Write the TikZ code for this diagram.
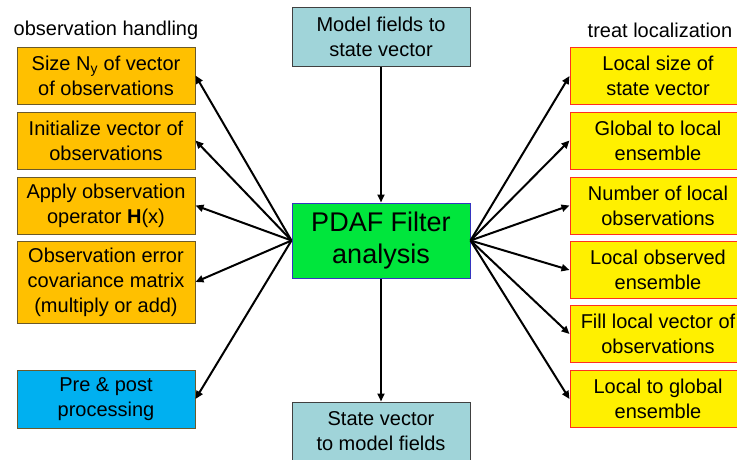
\documentclass[tikz,border=0pt]{standalone}
\usepackage{fontspec}
\setmainfont{Liberation Sans}
\usetikzlibrary{arrows.meta}
\definecolor{obsfill}{HTML}{FFC000}
\definecolor{obsdraw}{HTML}{6B5A2A}
\definecolor{locfill}{HTML}{FFF000}
\definecolor{locdraw}{HTML}{FF3020}
\definecolor{prefill}{HTML}{00B0F0}
\definecolor{modfill}{HTML}{A0D4D9}
\definecolor{pdaffill}{HTML}{00E63C}
\definecolor{pdafdraw}{HTML}{3535C0}
\tikzset{
  txt/.style={font=\fontsize{20}{25}\selectfont, align=center, inner sep=0pt},
  obsbox/.style={txt, draw=obsdraw, fill=obsfill, line width=1pt, minimum width=178pt},
  locbox/.style={txt, draw=locdraw, fill=locfill, line width=1pt, minimum width=176pt, minimum height=57pt},
  prebox/.style={txt, draw=obsdraw, fill=prefill, line width=1pt, minimum width=178pt, minimum height=58pt},
  modbox/.style={txt, draw=black!75, fill=modfill, line width=1pt, minimum width=178pt, minimum height=59pt},
  pdafbox/.style={font=\fontsize{27}{32}\selectfont, align=center, inner sep=0pt, draw=pdafdraw, fill=pdaffill, line width=1pt, minimum width=178pt, minimum height=75pt},
  conn/.style={line width=2pt, -{Triangle[length=8pt,width=7pt]}},
  title/.style={font=\fontsize{20}{25}\selectfont, inner sep=0pt}
}
\begin{document}
\begin{tikzpicture}[x=1pt,y=-1pt]
\useasboundingbox (0,0) rectangle (737,459);
\clip (0,0) rectangle (737,459);
\node[title] (tobs) at (106,30) {observation handling};
\node[title] (tloc) at (660,30) {treat localization};

\node[obsbox, minimum height=57pt] (o1) at (106,75.5) {Size N\textsubscript{y} of vector\\of observations};
\node[obsbox, minimum height=57pt] (o2) at (106,140.5) {Initialize vector of\\observations};
\node[obsbox, minimum height=57pt] (o3) at (106,205.5) {Apply observation\\operator \textbf{H}(x)};
\node[obsbox, minimum height=82pt] (o4) at (106,282) {Observation error\\covariance matrix\\(multiply or add)};
\node[prebox] (o5) at (106,399) {Pre \& post\\processing};

\node[locbox] (l1) at (658,76) {Local size of\\state vector};
\node[locbox] (l2) at (658,140.5) {Global to local\\ensemble};
\node[locbox] (l3) at (658,205.5) {Number of local\\observations};
\node[locbox] (l4) at (658,270) {Local observed\\ensemble};
\node[locbox] (l5) at (658,334) {Fill local vector of\\observations};
\node[locbox] (l6) at (658,399) {Local to global\\ensemble};

\node[modbox] (top) at (381,36.5) {Model fields to\\state vector};
\node[pdafbox] (pdaf) at (381,240.5) {PDAF Filter\\analysis};
\node[modbox] (bot) at (381,431.5) {State vector\\to model fields};

\draw[conn] (top) -- (pdaf);
\draw[conn] (pdaf) -- (bot);
\foreach \n in {o1,o2,o3,o4,o5}
  \draw[conn] (pdaf.west) -- (\n.east);
\foreach \n in {l1,l2,l3,l4,l5,l6}
  \draw[conn] (pdaf.east) -- (\n.west);
\end{tikzpicture}
\end{document}
